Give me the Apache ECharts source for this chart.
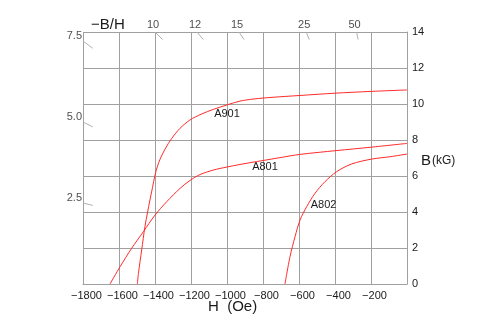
<!DOCTYPE html>
<html>
<head>
<meta charset="utf-8">
<script src="https://cdn.jsdelivr.net/npm/echarts@6/dist/echarts.min.js"></script>
<style>
  html, body { margin: 0; padding: 0; background: #fff; }
  #chart { width: 501px; height: 329px; }
</style>
</head>
<body>
<div id="chart"></div>
<script>
// Demagnetization curves, H in Oe, B in kG
const hA901 = [-1498, -1492, -1474, -1456, -1442, -1428, -1414, -1400, -1386, -1372, -1344, -1307, -1261, -1206, -1140, -1076, -1000, -928, -850, -750, -600, -400, -200, 0];
const bA901 = [0, 0.59, 1.89, 3.18, 3.95, 4.67, 5.35, 6.05, 6.55, 6.93, 7.5, 8.09, 8.65, 9.11, 9.45, 9.7, 9.95, 10.16, 10.28, 10.37, 10.47, 10.6, 10.7, 10.78];

const hA801 = [-1650, -1594, -1530, -1465, -1400, -1335, -1261, -1206, -1150, -1076, -1000, -928, -872, -800, -706, -594, -394, -200, 0];
const bA801 = [0, 0.96, 1.98, 2.9, 3.83, 4.57, 5.31, 5.75, 6.08, 6.33, 6.5, 6.64, 6.74, 6.86, 7.02, 7.2, 7.41, 7.6, 7.81];

const hA802 = [-678, -650, -622, -594, -557, -511, -456, -391, -307, -196, -94, 0];
const bA802 = [0, 1.52, 2.63, 3.56, 4.3, 5.04, 5.68, 6.24, 6.67, 6.94, 7.07, 7.22];

// Permeance (-B/H) load-line scale: along the top edge and along the left edge
const loadTop = [10, 12, 15, 25, 50];
const loadLeft = [7.5, 5.0, 2.5];

// Axis ticks
const xTicks = [-1800, -1600, -1400, -1200, -1000, -800, -600, -400, -200];
const bTicks = [0, 2, 4, 6, 8, 10, 12, 14];

const H_MIN = -1800, H_MAX = 0, B_MAX = 14;
const FONT = 'Liberation Sans';
const TXT = '#1a1a1a';
const GRIDC = '#a0a0a0';
const RED = '#ff2a2a';

const zip = (h, b) => h.map((v, i) => [v, b[i]]);
const minus = v => String(v).replace('-', '\u2212');

// Load-line points where each line B = k*(-H) meets the frame (B in kG -> G)
const topPts = loadTop.map(k => [-B_MAX * 1000 / k, B_MAX, k]);
const leftPts = loadLeft.map(k => [H_MIN, -H_MIN * k / 1000, k]);

// Short tick segments pointing from the frame toward the origin
const tickSeg = [];
[...topPts, ...leftPts].forEach(p => {
  const f = 0.03;
  tickSeg.push([p[0], p[1]]);
  tickSeg.push([p[0] * (1 - f), p[1] * (1 - f)]);
  tickSeg.push('-');
});

function curve(name, h, b, labelIdx, labelOpt) {
  return {
    type: 'line', name, data: zip(h, b),
    smooth: 0.3,
    showSymbol: false, symbol: 'none',
    lineStyle: { color: RED, width: 1 },
    clip: true, z: 5,
    markPoint: {
      symbol: 'circle', symbolSize: 0, silent: true,
      data: [{ coord: [h[labelIdx], b[labelIdx]] }],
      label: Object.assign({ show: true, formatter: name, color: TXT, fontFamily: FONT, fontSize: 11 }, labelOpt)
    }
  };
}

const chart = echarts.init(document.getElementById('chart'), null, { renderer: 'canvas' });

chart.setOption({
  animation: false,
  backgroundColor: '#fff',
  grid: { left: 83, right: 94, top: 32, bottom: 45, containLabel: false },
  xAxis: {
    type: 'value', min: H_MIN, max: H_MAX, interval: 200,
    axisLine: { show: true, lineStyle: { color: GRIDC, width: 1 } },
    axisTick: { show: false },
    splitLine: { show: true, lineStyle: { color: GRIDC, width: 1 } },
    axisLabel: {
      color: TXT, fontFamily: FONT, fontSize: 11, margin: 6,
      padding: [0, 0, 0, 7],
      formatter: v => xTicks.includes(v) ? minus(v) : ''
    }
  },
  yAxis: {
    type: 'value', position: 'right', min: 0, max: B_MAX, interval: 2,
    axisLine: { show: true, lineStyle: { color: GRIDC, width: 1 } },
    axisTick: { show: false },
    splitLine: { show: true, lineStyle: { color: GRIDC, width: 1 } },
    axisLabel: {
      color: TXT, fontFamily: FONT, fontSize: 11, margin: 5,
      formatter: v => bTicks.includes(v) ? String(v) : ''
    }
  },
  graphic: [
    { type: 'text', left: 91, top: 17, style: { text: '\u2212B/H', fill: TXT, font: '15px "' + FONT + '"' } },
    { type: 'text', left: 208, top: 299, style: { text: 'H  (Oe)', fill: TXT, font: '15px "' + FONT + '"' } },
    { type: 'text', left: 421, top: 153, style: { text: 'B', fill: TXT, font: '15px "' + FONT + '"' } },
    { type: 'text', left: 432, top: 155, style: { text: '(kG)', fill: TXT, font: '12px "' + FONT + '"' } }
  ],
  series: [
    curve('A901', hA901, bA901, 16, { position: 'bottom', distance: 4 }),
    curve('A801', hA801, bA801, 13, { position: 'bottom', distance: 1, offset: [2, 0] }),
    curve('A802', hA802, bA802, 4, { position: 'right', distance: 4, offset: [0, -2] }),
    {
      type: 'line', name: 'load-line ticks', data: tickSeg,
      showSymbol: false, symbol: 'none', connectNulls: false, clip: false,
      lineStyle: { color: '#b0b0b0', width: 1 }, z: 3
    },
    {
      type: 'scatter', name: 'top scale', data: topPts, symbolSize: 0, clip: false,
      label: {
        show: true, position: 'inside', offset: [-2, -7],
        formatter: p => String(p.value[2]), color: TXT, fontFamily: FONT, fontSize: 11
      }
    },
    {
      type: 'scatter', name: 'left scale', data: leftPts, symbolSize: 0, clip: false,
      label: {
        show: true, position: 'left', distance: 1, offset: [0, -5],
        formatter: p => p.value[2].toFixed(1), color: TXT, fontFamily: FONT, fontSize: 11
      }
    }
  ]
});
</script>
</body>
</html>
